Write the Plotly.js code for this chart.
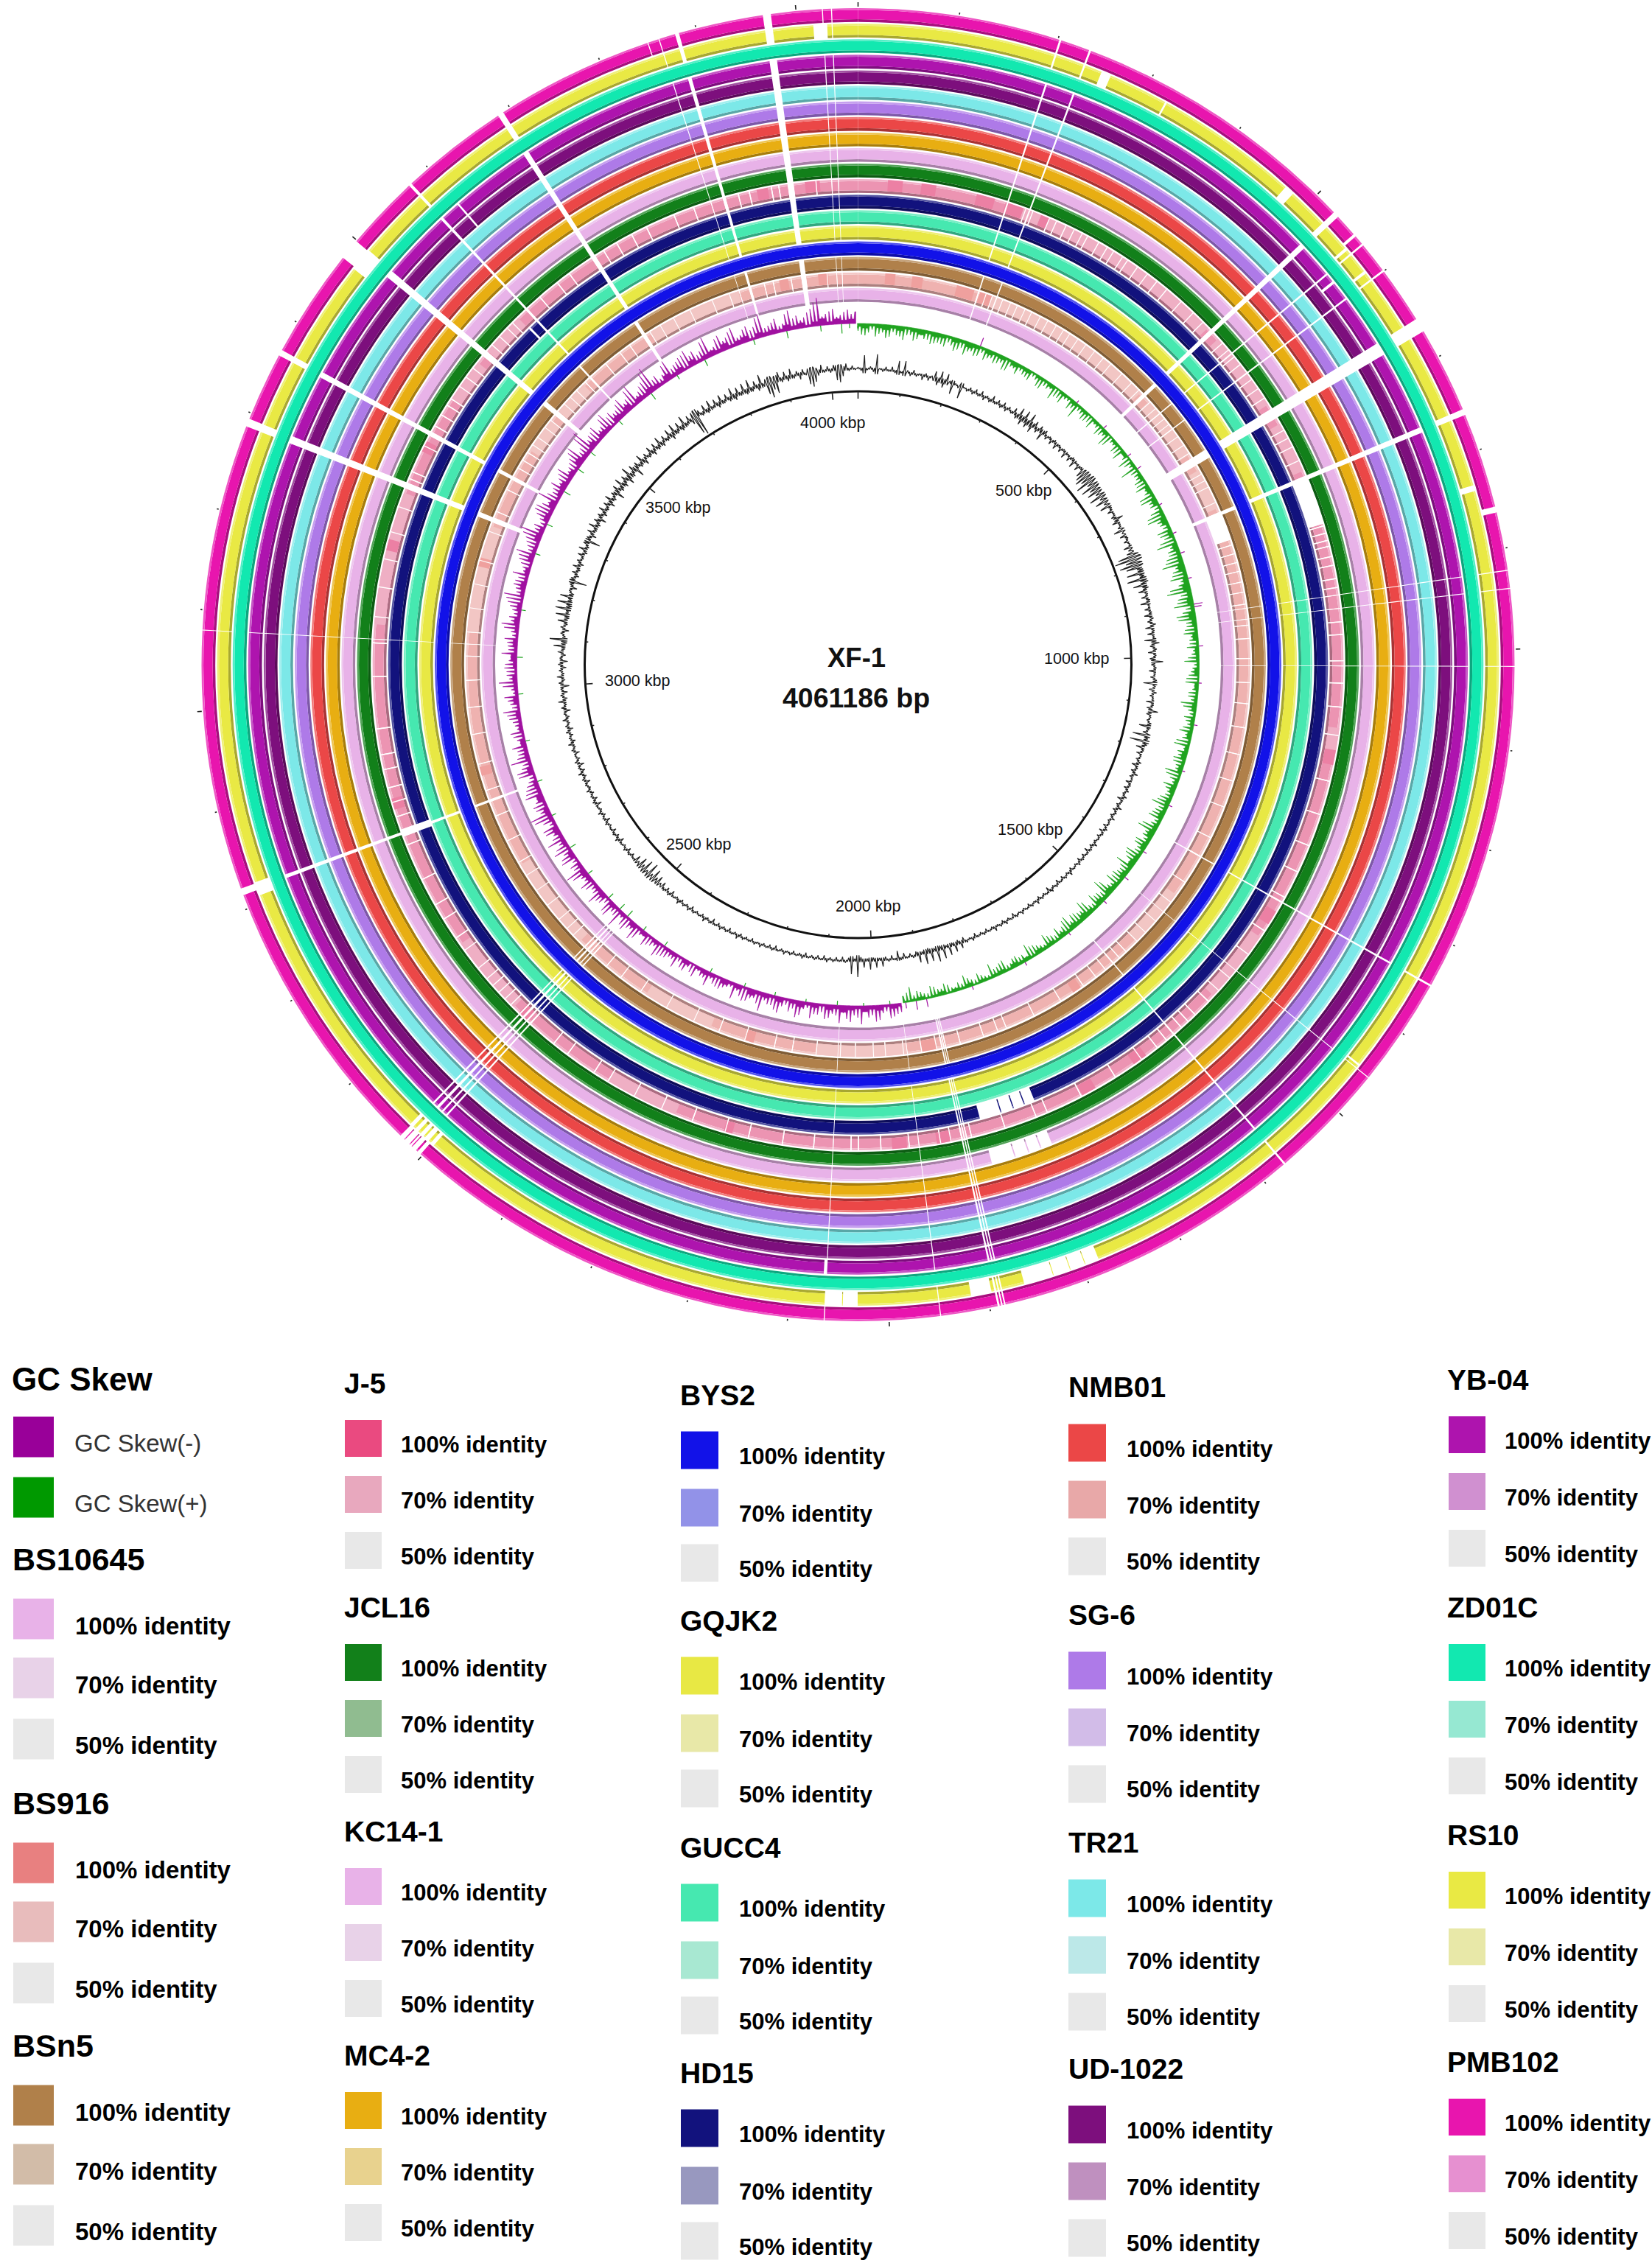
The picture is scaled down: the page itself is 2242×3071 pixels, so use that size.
<!DOCTYPE html>
<html><head><meta charset="utf-8">
<script src="https://cdn.plot.ly/plotly-3.0.1.min.js"></script>
<style>html,body{margin:0;padding:0;background:#fff}</style></head>
<body><div id="chart" style="width:2242px;height:3071px"></div>
<script>
const genomeKbp = 4061.186;
const ringNames = ["PMB102","RS10","ZD01C","YB-04","UD-1022","TR21","SG-6","NMB01","MC4-2","KC14-1","JCL16","J-5","HD15","GUCC4","GQJK2","BYS2","BSn5","BS916","BS10645"];
const ring100 = ["#E815AE","#E9E944","#12E8B0","#AE14AE","#7D0F7D","#7CE8E8","#AE7AE8","#EB4747","#E8AE12","#E8B2E8","#12801A","#EA4A80","#12127D","#46E8B0","#E8E844","#1212E8","#B0804A","#E88080","#E8B2E8"];
const ring70  = ["#E690D0","#E8E8A8","#96E8D2","#D090D0","#BF90BF","#BCE8E8","#D2BCE8","#E8A8A8","#E8D28E","#E8D2E8","#90BC90","#E8A8BE","#9898BF","#A8E8D2","#E8E8A8","#9292E8","#D2BCA8","#E8BCBC","#E8D2E8"];
const ring50 = "#E8E8E8";

// gaps (kbp) shared by every ring except ZD01C and BYS2
const sharedGaps = [[201.5,203.5],[232.5,234.5],[524,530],[565.5,567.5],[598.5,600.5],[657,671],[757,763],[921.5,922.5],[939.5,940.5],[1016.6,1017.4],[1344.5,1346.5],[1454.5,1455.5],[1572.5,1574.5],[1884,1885.5],[1887,1888.5],[1890,1892],[1948.5,1949.5],[2063.5,2064.5],[2508,2510],[2514,2516],[2520,2523],[2527,2529],[2815,2819],[3079.6,3080.4],[3286,3294],[3363,3369],[3491,3499],[3574.5,3577.5],[3686,3692],[3861.5,3862.5],[3878.5,3882.5],[3967,3975],[4025.5,4026.5],[4034.5,4035.5]];
const gapsPMB102 = [[3478,3496],[3850,3851],[858,864],[2502,2506],[2510,2513],[2517,2520],[2524,2528],[2814,2821],[553,556]];
const gapsRS10 = [[4016,4030],[252,262],[323,325],[472,482],[558,561],[588,591],[832,838],[1782,1796],[1796.8,1812],[1812.8,1830],[1830.8,1861],[1895,1916],[2031,2046],[2046.8,2064],[3476,3500],[2808,2822],[2498,2502],[2505,2509],[2512,2516],[2519,2523],[2526,2530],[1450,1452]];
const gapsYB04 = [[2064,2067],[3598,3600],[576,579]];
const gapsUD1022 = [[3598,3600]];
const gapsHD15 = [[1782,1796],[1797.5,1812],[1813.5,1830],[1831.5,1861],[2812,2822],[3560,3563]];
const gapsKC141 = [[1782,1796],[1797.5,1812],[1813.5,1830],[1831.5,1861]];
const gapsJ5 = [[762,825],[2812,2822]];
const gapsBS916 = [[762,806]];

const linesJ5 = [228,238,262,272,286,298,310,318,335,348,358,372,380,396,412,428,445,470,492,510,548,560,572,585,610,625,640,690,702,715,735,828,838,848,856,870,882,900,912,958,975,1010,1040,1072,1110,1172,1218,1262,1300,1338,1390,1428,1468,1490,1510,1535,1548,1560,1586,1602,1628,1670,1722,1772,1788,1832,1878,1906,1920,1962,2000,2030,2040,2090,2132,2178,2210,2256,2300,2340,2380,2402,2445,2468,2545,2556,2568,2580,2592,2610,2640,2660,2690,2712,2750,2800,2840,2860,2880,2905,2925,2960,3030,3075,3110,3150,3188,3225,3260,3300,3310,3348,3378,3395,3410,3420,3440,3455,3470,3510,3525,3540,3550,3600,3630,3650,3705,3725,3748,3770,3810,3838,3900,3915,3945,3955,4005];
const strongJ5 = [[40,60],[85,105],[160,185],[200,225],[250,262],[3925,3940],[3990,4010],[1905,1925],[1965,1985],[2200,2212],[2515,2530],[1620,1640],[1700,1720],[1360,1380],[1130,1150],[3200,3215],[3340,3355],[2850,2865]];
const paleJ5 = [[225,250],[262,520],[540,650],[680,750],[3420,3480],[3100,3280],[3500,3560],[1100,1130],[1400,1500],[2280,2380],[2540,2650]];

const linesBS916 = [215,226,244,258,270,284,296,312,326,342,356,368,384,400,418,436,452,476,498,515,542,556,578,590,615,632,648,688,700,712,740,815,830,845,860,878,895,915,950,972,1005,1045,1080,1120,1165,1210,1255,1310,1345,1395,1435,1475,1500,1520,1545,1560,1590,1610,1635,1680,1730,1780,1795,1820,1860,1900,1925,1955,1985,2005,2035,2060,2100,2140,2170,2220,2265,2310,2360,2410,2450,2480,2555,2570,2590,2620,2650,2680,2705,2745,2790,2835,2880,2930,2975,3020,3060,3100,3140,3180,3220,3270,3305,3345,3385,3400,3415,3430,3445,3465,3480,3515,3530,3545,3565,3610,3640,3660,3700,3720,3745,3775,3815,3845,3905,3920,3950,4010];
const strongBS916 = [[45,62],[90,108],[165,195],[205,225],[3930,3945],[3995,4012],[1900,1925],[2205,2220],[1640,1655],[3210,3225],[2860,2875]];
const paleBS916 = [[225,520],[540,650],[680,750],[3420,3480],[3100,3280],[3500,3560],[1420,1520],[1950,2100],[2280,2400],[2540,2700],[3700,3860]];

// GC skew, one value every 6.77 kbp from 0: inward (green) up to 1950 kbp, then outward (purple)
const gcSkewGreen = [
-4,-15,-6,-12,-3,-17,-5,-11,-7,-16,-4,-13,-6,-18,-3,-10,-5,-14,-7,-12,-4,-17,-6,-13,
-5,-16,-3,-12,-6,-15,-4,-19,-7,-11,-5,-14,-3,-16,-6,-10,-4,-13,-5,-18,-3,-9,-6,-15,
-4,-11,-5,-14,-2,-8,-4,-16,-3,-10,-5,-19,-2,-12,-4,-7,-3,-15,-5,-22,-3,-9,-4,-13,
-2,-16,-4,-8,-3,-12,-5,-20,-2,-7,-4,-14,-3,-18,-5,-9,-2,-13,-4,-24,-3,-10,-5,-15,
-3,-19,-6,-11,-4,-22,-7,-13,-3,-17,-5,-26,-8,-12,-4,-20,-6,-14,-3,-28,-7,-16,-5,-21,
-6,-30,-9,-18,-5,-24,-7,-15,-10,-33,-6,-20,-8,-27,-5,-17,-9,-24,-6,-14,-4,-19,-7,-12,
-3,-16,-5,-10,-4,-20,-3,-9,-6,-14,-2,-18,-5,-8,-3,-13,-4,-22,-6,-11,-3,-15,-5,-9,
-4,-18,-6,-12,-3,-21,-5,-14,-7,-17,-4,-11,-6,-23,-3,-13,-5,-19,-7,-10,-4,-16,-6,-24,
-5,-15,-7,-20,-4,-12,-6,-26,-8,-14,-5,-19,-7,-11,-4,-22,-6,-16,-8,-25,-5,-13,-7,-18,
-4,-21,-6,-12,-8,-27,-5,-15,-7,-20,-4,-11,-6,-24,-8,-14,-5,-18,-7,-22,-4,-13,-6,-17,
-3,-12,-5,-19,-4,-9,-6,-15,-3,-21,-5,-11,-4,-14,-6,-8,-3,-17,-5,-12,-4,-20,-3,-7,
-4,-14,-2,-9,-5,-18,-3,-11,-4,-7,-2,-15,-5,-10,-3,-16,-2,-8,-4,-13,-3,-20,-2,-9];
const gcSkewPurple = [
4,14,6,19,3,11,7,22,5,16,8,25,4,13,6,18,9,24,5,12,7,20,3,15,
6,21,4,10,8,23,5,17,3,12,7,19,4,14,6,26,5,11,8,18,3,15,6,22,
4,9,7,16,3,13,5,20,6,11,4,17,2,8,6,14,3,19,5,10,4,15,3,21,
5,12,3,18,6,9,4,23,7,13,3,16,5,26,4,11,6,19,3,14,7,24,5,10,
4,20,6,12,8,28,5,15,3,22,7,13,4,18,6,25,5,11,8,21,4,16,6,30,
7,17,4,13,9,24,5,19,6,12,3,22,8,15,4,27,6,14,5,20,7,11,3,18,
5,10,4,16,6,23,3,12,7,19,4,9,5,25,6,14,3,17,5,11,8,21,4,13,
6,18,3,10,5,24,7,15,4,12,6,20,3,27,5,13,7,16,4,22,6,11,3,19,
7,26,5,14,4,20,8,31,6,16,3,12,7,24,5,18,9,29,4,13,6,21,8,15,
5,23,7,12,4,18,9,28,6,15,5,34,8,17,4,22,7,13,6,26,3,19,8,14,
6,24,9,16,4,30,7,13,5,21,8,36,6,17,4,12,9,27,5,15,7,20,3,25,
8,19,4,14,6,29,7,11,5,23,9,16,4,26,6,12,8,21,3,17,7,32,5,13,
6,20,4,11,8,27,5,18,7,14,3,24,6,38,9,15,4,21,7,12,5,19,6,16];
// extra spike heights rising from the even-numbered samples above
const gcSkewGreenMid = [
-10,-16,-8,-13,-18,-9,-14,-11,-17,-8,-12,-15,
-14,-9,-18,-11,-13,-16,-8,-12,-15,-10,-17,-9,
-8,-12,-6,-15,-9,-7,-13,-16,-6,-11,-8,-14,
-11,-6,-15,-9,-17,-7,-13,-5,-19,-8,-12,-10,
-15,-8,-21,-12,-9,-24,-14,-10,-18,-22,-11,-16,
-24,-13,-20,-11,-28,-15,-22,-12,-26,-14,-17,-10,
-12,-8,-15,-7,-11,-17,-6,-13,-9,-18,-8,-12,
-14,-9,-19,-7,-12,-16,-10,-20,-8,-14,-11,-18,
-12,-17,-9,-22,-13,-10,-18,-12,-20,-9,-16,-14,
-16,-10,-22,-12,-15,-9,-20,-13,-17,-11,-19,-10,
-9,-15,-7,-12,-16,-6,-10,-13,-8,-15,-11,-6,
-10,-7,-13,-8,-6,-12,-9,-14,-7,-11,-8,-13];
const gcSkewPurpleMid = [
12,17,9,20,13,8,16,22,10,14,18,11,
15,8,19,12,9,22,14,10,17,13,20,9,
7,12,15,8,11,6,13,16,8,10,14,17,
9,14,7,18,11,20,8,13,22,9,16,12,
16,10,22,13,8,19,24,11,15,20,9,26,
13,19,10,21,16,9,23,12,17,14,8,15,
8,12,18,10,15,7,20,11,14,16,9,12,
14,8,20,12,9,16,23,11,17,13,9,15,
21,11,17,26,13,9,19,24,12,18,15,11,
19,10,15,24,12,29,14,18,11,22,16,13,
20,13,26,10,18,31,14,9,23,12,17,21,
15,11,25,9,20,13,22,10,18,14,28,11,
16,9,23,15,11,20,32,12,18,10,16,13];
const skewPurpleKbp = [237,450,520,590,620,700,760,800,850,900,905,980,1050,1130,1220,1290,1390,1450,1510,1600,1700,1810,1900,1920,1940];
const skewPurpleHeight = [12,4,5,5,6,4,5,6,5,12,10,6,4,5,4,5,5,6,5,4,5,5,11,12,8];
const skewGreenKbp = [1970,2020,2070,2130,2190,2250,2320,2420,2470,2510,2530,2560,2620,2680,2750,2820,2900,2990,3060,3150,3260,3320,3390,3440,3480,3560,3640,3700,3760,3860,3925,3990,4030,4045];
const skewGreenHeight = [5,4,6,4,5,5,6,7,6,10,9,8,7,9,6,7,6,7,8,6,7,8,10,9,8,7,10,6,9,7,10,8,13,6];

// GC content, deviation from the baseline, one value every 6.77 kbp from 0
const gcContent = [
2,-3,18,-2,3,-4,20,1,-3,4,-2,5,-3,14,-2,15,3,-4,5,-3,2,-6,4,-5,
3,10,-8,12,-9,11,3,-14,2,-3,-16,1,-3,4,-4,5,-3,6,-5,3,-4,7,-3,5,
-4,6,-5,4,-3,7,-6,12,-10,13,-9,14,-11,8,-6,7,-12,6,-5,3,-6,4,-7,3,
-5,3,-8,2,-6,4,-9,2,-7,3,-10,-14,-18,-12,-22,-8,-20,-10,-16,-6,-18,-5,-14,-4,
-12,3,-6,2,-5,10,-8,2,-4,-12,-2,-7,3,-5,2,-9,-4,-8,-22,-28,-14,-24,-16,6,
-18,5,-20,8,-14,6,-9,3,-7,4,-10,2,-6,3,-8,4,-5,6,-9,3,-7,2,-12,8,
-5,4,-8,3,-6,12,-4,3,-7,2,-5,4,-14,3,-6,5,-4,2,-8,3,-6,10,-5,2,
-3,4,-12,3,-5,-18,4,-20,5,-9,3,-6,2,-4,5,-7,3,-5,6,-4,2,-6,3,-5,
4,-3,5,-7,2,-4,6,-5,3,-4,5,-3,2,-5,4,-6,3,-4,2,-3,5,-4,3,-6,
2,-4,3,-5,4,-3,2,-4,5,-3,3,-4,2,-5,3,-3,4,-6,2,-3,3,-4,5,-2,
3,-4,2,-3,4,-2,3,-5,2,-3,4,-4,3,-2,5,-3,2,-4,3,-3,2,-5,4,-2,
3,-6,8,-5,10,-4,12,-3,14,-5,16,-4,13,-6,15,-3,11,-5,3,-4,2,-6,3,-10,
2,-5,3,-4,9,-3,10,-4,12,-3,9,-5,22,-3,18,-4,3,-5,2,-4,3,-3,4,-5,
2,-4,3,-3,2,-5,4,-3,2,-4,3,-2,4,-3,2,-5,3,-4,2,-3,4,-2,3,-4,
2,-3,3,-4,5,-3,2,-5,3,-3,4,-4,2,-6,3,-3,5,-4,2,-3,3,-5,4,-3,
3,-4,5,-3,2,-6,4,-5,3,-7,-3,-10,-5,-14,-4,-17,-3,-15,-5,-12,-3,-8,2,-4,
3,-5,4,-3,2,-6,5,-4,3,-5,2,-3,4,-6,3,-4,5,-3,2,-7,4,-5,3,-4,
5,-3,3,-6,4,-4,6,-5,3,-7,5,-4,2,-6,4,-3,6,-5,3,-4,5,-6,4,-3,
6,-4,3,-7,5,-3,8,-5,4,-6,3,-9,5,-4,7,-3,4,-6,5,-8,3,-5,6,-4,
12,-6,18,-3,4,-7,5,-4,10,-5,14,-3,16,-6,15,-4,13,-5,3,-7,4,-18,5,-5,
6,-4,8,-6,5,-3,7,-5,9,-4,6,-16,5,-7,8,-4,10,-5,7,-9,6,-6,9,-4,
7,-8,10,-5,6,-12,9,-6,12,-7,8,-10,14,-6,9,-13,7,-5,11,-8,6,-4,9,-7,
8,-5,11,-6,7,-4,10,-8,12,-5,9,-6,13,-4,8,-7,-24,-28,6,-4,9,-5,11,-3,
8,-6,10,-4,7,-5,12,-7,9,-4,11,-6,13,-5,8,-7,14,-4,-16,-22,-12,-18,10,-5,
8,-6,10,-4,5,-7,6,-3,-16,-20,-14,-6,8,-3,5,-4,6,-15,-18,-10,7,-3,4,-2];

const tickLabels = ["500 kbp","1000 kbp","1500 kbp","2000 kbp","2500 kbp","3000 kbp","3500 kbp","4000 kbp"];
const centerTitle = ["XF-1","4061186 bp"];
const identityLabels = ["100% identity","70% identity","50% identity"];
const skewColors = ["#990099","#009900"];
const skewLabels = ["GC Skew(-)","GC Skew(+)"];

// ---------- layout tables ----------
const CX = 1164.5, CY = 902, RMAX = 900;
const RING_TOP = 891, RING_STEP = 21.1, RING_H = 18.7, BAND_OUT = 2.6, BAND_IN = 3.6;
const R_AXIS = 371, R_SKEW = 463, R_GC = 402, STEP_KBP = 6.77, SPIKE_HALF_DEG = 0.14, GC_HALF_DEG = 0.22;
const tickLabelPos = [[1389,666],[1461,894],[1398,1126],[1178,1230],[948,1146],[865,924],[920,689],[1130,574]];
const legendCols = [
 {names:["BS10645","BS916","BSn5"],ys:[2116,2447,2776],hx:15,sw:55,tx:100,fs:33,hfs:43,sy:[81,161,244],ty:[90,170,252],sx:18},
 {names:["J-5","JCL16","KC14-1","MC4-2"],ys:[1877,2181,2485,2789],hx:465,sw:50,tx:542,fs:31,hfs:39,sy:[75,151,227],ty:[83,159,235],sx:468},
 {names:["BYS2","GQJK2","GUCC4","HD15"],ys:[1893,2199,2507,2813],hx:921,sw:51,tx:1001,fs:31,hfs:39,sy:[75,153,228],ty:[83,161,236],sx:924},
 {names:["NMB01","SG-6","TR21","UD-1022"],ys:[1882,2191,2500,2807],hx:1448,sw:51,tx:1527,fs:31,hfs:39,sy:[76,153,230],ty:[84,161,237],sx:1450},
 {names:["YB-04","ZD01C","RS10","PMB102"],ys:[1872,2181,2490,2798],hx:1962,sw:50,tx:2040,fs:31,hfs:39,sy:[75,152,229],ty:[83,160,237],sx:1966}
];
const FONT = '"Liberation Sans", Arial, sans-serif';

// ---------- helpers ----------
const toDeg = k => k / genomeKbp * 360;
function merged(gaps){
  const s = gaps.map(g=>g.slice()).sort((a,b)=>a[0]-b[0]), out=[];
  s.forEach(g=>{ if(out.length && g[0]<=out[out.length-1][1]) out[out.length-1][1]=Math.max(out[out.length-1][1],g[1]); else out.push(g); });
  return out;
}
function complement(gaps){
  const out=[]; let p=0;
  merged(gaps).forEach(g=>{ if(g[0]>p) out.push([p,g[0]]); p=g[1]; });
  if(p<genomeKbp) out.push([p,genomeKbp]);
  return out;
}
function bars(ranges,color,rIn,rOut){
  return {type:'barpolar',theta:ranges.map(r=>toDeg((r[0]+r[1])/2)),width:ranges.map(r=>toDeg(r[1]-r[0])),
    base:ranges.map(()=>rIn),r:ranges.map(()=>rOut-rIn),marker:{color:color,line:{width:0}},hoverinfo:'skip',showlegend:false};
}
function hex(c){return [1,3,5].map(i=>parseInt(c.substr(i,2),16));}
function mix(c,t,a){const x=hex(c),y=hex(t);return 'rgb('+x.map((v,i)=>Math.round(v*(1-a)+y[i]*a)).join(',')+')';}
const thinLines = arr => arr.map(k=>[k-0.7,k+0.7]);

const ringExtra = {"PMB102":gapsPMB102,"RS10":gapsRS10,"YB-04":gapsYB04,"UD-1022":gapsUD1022,"HD15":gapsHD15,"KC14-1":gapsKC141,"J-5":gapsJ5.concat(thinLines(linesJ5)),"BS916":gapsBS916.concat(thinLines(linesBS916))};
const ringBase = {"J-5":"#EC94B2","BS916":"#EFB2B0"};
const ringStrong = {"J-5":[strongJ5,"#EC80A4"],"BS916":[strongBS916,"#EFA09E"]};
const ringPale = {"J-5":[paleJ5,"#EFAFC4"],"BS916":[paleBS916,"#F2C6C4"]};

const traces=[];
ringNames.forEach((name,i)=>{
  const rOut=RING_TOP-RING_STEP*i, rIn=rOut-RING_H;
  const solid = name==="ZD01C"||name==="BYS2";
  const gaps=(solid?[]:sharedGaps).concat(ringExtra[name]||[]);
  const segs=complement(gaps);
  const col=ringBase[name]||ring100[i];
  traces.push(bars(segs,mix(col,"#000000",0.28),rIn,rIn+BAND_IN));
  traces.push(bars(segs,col,rIn+BAND_IN,rOut-BAND_OUT));
  traces.push(bars(segs,mix(col,"#FFFFFF",0.28),rOut-BAND_OUT,rOut));
  if(ringPale[name]){
    traces.push(bars(ringPale[name][0],ringPale[name][1],rIn+BAND_IN,rOut));
    traces.push(bars(ringStrong[name][0],ringStrong[name][1],rIn+BAND_IN,rOut));
    traces.push(bars(merged(gaps),"#FFFFFF",rIn-0.2,rOut+0.2));
  }
});

// GC skew: filled area, even samples set the solid strip, odd samples and the Mid values are sharp spikes
function skewTrace(vals,mid,startIdx,color){
  const th=[],r=[];
  const d=SPIKE_HALF_DEG;
  vals.forEach((v,j)=>{
    const t=toDeg((j+startIdx)*STEP_KBP);
    const even=j%2===0;
    const low=even?v:vals[j-1];
    const lowNext=even?v:(j+1<vals.length?vals[j+1]:v);
    const peak=even?mid[j/2]:v;
    th.push(t-d,t,t+d); r.push(R_SKEW+low,R_SKEW+peak,R_SKEW+lowNext);
  });
  const thBack=th.slice().reverse();
  return {type:'scatterpolar',mode:'lines',theta:th.concat(thBack),r:r.concat(thBack.map(()=>R_SKEW)),
    fill:'toself',fillcolor:color,line:{color:color,width:0.7},hoverinfo:'skip',showlegend:false};
}
traces.push(skewTrace(gcSkewGreen,gcSkewGreenMid,0,"#1FA31F"));
traces.push(skewTrace(gcSkewPurple,gcSkewPurpleMid,gcSkewGreen.length,"#A010A0"));
function spikes(kbp,h,sign,color,r0,w){
  const th=[],r=[];
  kbp.forEach((k,j)=>{th.push(toDeg(k),toDeg(k),null);r.push(r0,r0+sign*h[j],null);});
  return {type:'scatterpolar',mode:'lines',theta:th,r:r,line:{color:color,width:w},hoverinfo:'skip',showlegend:false,connectgaps:false};
}
traces.push(spikes(skewPurpleKbp,skewPurpleHeight,1,"#A010A0",R_SKEW,1.2));
traces.push(spikes(skewGreenKbp,skewGreenHeight,-1,"#1FA31F",R_SKEW,1.2));
// GC content: each value is a sharp spike on a jittering baseline
const gcTh=[],gcR=[];
gcContent.forEach((v,j)=>{const t=toDeg(j*STEP_KBP); gcTh.push(t-GC_HALF_DEG,t,t+GC_HALF_DEG); gcR.push(R_GC-v*0.35,R_GC+v,R_GC-v*0.35);});
traces.push({type:'scatterpolar',mode:'lines',theta:gcTh,r:gcR,line:{color:"#222222",width:1.2},hoverinfo:'skip',showlegend:false});
// ticks every 100 kbp on both scales
const ticks=[]; for(let k=0;k<genomeKbp;k+=100) ticks.push(k);
const majH=ticks.map(k=>k%500===0?10:3.5), outH=ticks.map(k=>k%500===0?6:2.5);
traces.push(spikes(ticks,majH,-1,"#222222",R_AXIS,1.6));
traces.push(spikes(ticks,outH,1,"#222222",893,1.6));

// legend swatches on the page-wide cartesian axes
const annotations=[];
function note(x,y,text,size,bold,color,anchor){
  annotations.push({x:x,y:y,xref:'x',yref:'y',text:bold?'<b>'+text+'</b>':text,showarrow:false,xanchor:anchor||'left',yanchor:'middle',
    font:{family:FONT,size:size,color:color||'#000000'}});
}
legendCols.forEach(c=>{
  c.names.forEach((nm,g)=>{
    const idx=ringNames.indexOf(nm), y0=c.ys[g];
    note(c.hx,y0,nm,c.hfs,true);
    [ring100[idx],ring70[idx],ring50].forEach((col,k)=>{
      traces.push({type:'scatter',mode:'markers',x:[c.sx+c.sw/2],y:[y0+c.sy[k]],marker:{symbol:'square',size:c.sw,color:col,line:{width:0}},hoverinfo:'skip',showlegend:false});
      note(c.tx,y0+c.ty[k],identityLabels[k],c.fs,true);
    });
  });
});
note(14,1871,"GC Skew",44,true);
skewColors.forEach((col,k)=>{
  traces.push({type:'scatter',mode:'markers',x:[45.5],y:[[1950,2032][k]],marker:{symbol:'square',size:55,color:col,line:{width:0}},hoverinfo:'skip',showlegend:false});
  note(99,[1958,2040][k],skewLabels[k],33,false,'#333333');
});
tickLabels.forEach((t,i)=>note(tickLabelPos[i][0],tickLabelPos[i][1],t,21.5,false,'#111111','center'));
note(1162,892,centerTitle[0],36.5,true,'#111111','center');
note(1162,947,centerTitle[1],37.5,true,'#111111','center');

const layout={
  width:2242,height:3071,autosize:false,margin:{l:0,r:0,t:0,b:0},paper_bgcolor:'#fff',plot_bgcolor:'rgba(0,0,0,0)',showlegend:false,
  xaxis:{range:[0,2242],domain:[0,1],visible:false,fixedrange:true},
  yaxis:{range:[3071,0],domain:[0,1],visible:false,fixedrange:true},
  polar:{
    domain:{x:[(CX-RMAX)/2242,(CX+RMAX)/2242],y:[1-(CY+RMAX)/3071,1-(CY-RMAX)/3071]},
    bgcolor:'rgba(0,0,0,0)',barmode:'overlay',bargap:0,
    radialaxis:{range:[0,RMAX],visible:true,showticklabels:false,ticks:'',showline:false,tickvals:[R_AXIS],gridcolor:'#111111',gridwidth:3},
    angularaxis:{visible:false,rotation:90,direction:'clockwise',thetaunit:'degrees'}
  },
  annotations:annotations
};
Plotly.newPlot('chart',traces,layout,{staticPlot:true,displayModeBar:false});
</script></body></html>
